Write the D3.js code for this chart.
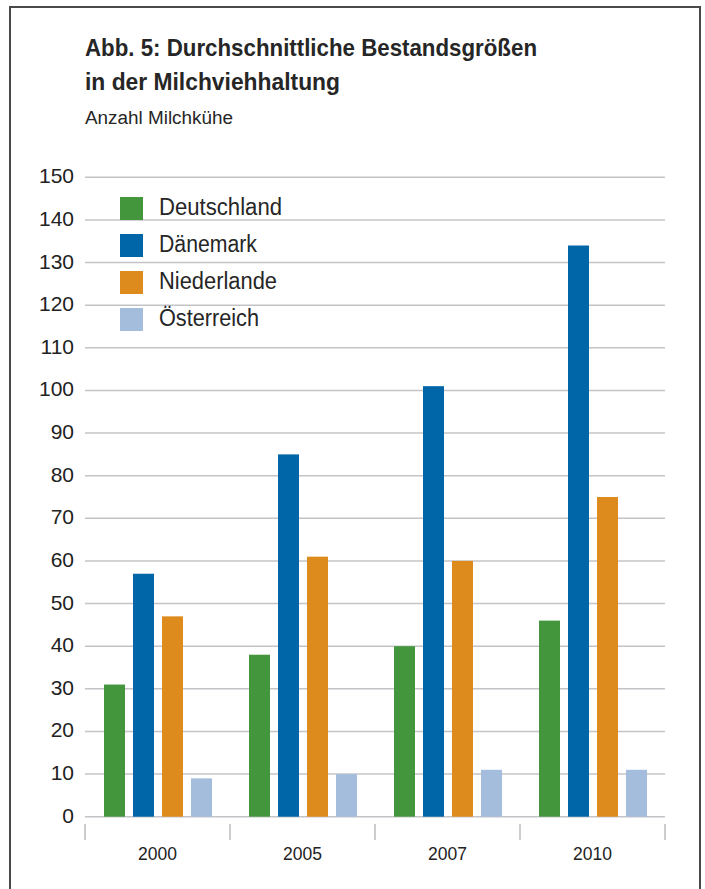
<!DOCTYPE html>
<html>
<head>
<meta charset="utf-8">
<script src="https://cdn.jsdelivr.net/npm/d3@7"></script>
<style>
  html, body { margin: 0; padding: 0; background: #fff; }
  svg { display: block; }
</style>
</head>
<body>
<script>
// ---- data ----
const years = ["2000", "2005", "2007", "2010"];
const seriesNames = ["Deutschland", "Dänemark", "Niederlande", "Österreich"];
const deutschland = [31, 38, 40, 46];
const daenemark   = [57, 85, 101, 134];
const niederlande = [47, 61, 60, 75];
const oesterreich = [9, 10, 11, 11];
const yTicks = [0, 10, 20, 30, 40, 50, 60, 70, 80, 90, 100, 110, 120, 130, 140, 150];
const titleLines = ["Abb. 5: Durchschnittliche Bestandsgrößen", "in der Milchviehhaltung"];
const subtitle = "Anzahl Milchkühe";

const seriesValues = [deutschland, daenemark, niederlande, oesterreich];
const colors = ["#43963c", "#0066a8", "#de8b1e", "#a5bddd"];

const W = 705, H = 889;
const svg = d3.select("body").append("svg").attr("width", W).attr("height", H);

// frame
svg.append("path")
  .attr("d", "M10,900 V7 H700 V900")
  .attr("fill", "none").attr("stroke", "#4a4a4a").attr("stroke-width", 2);

// titles
const titleFont = "'Liberation Sans', Arial, sans-serif";
const tl = svg.append("g").attr("fill", "#262626").attr("font-family", titleFont);
tl.append("text").attr("x", 85).attr("y", 56).attr("font-size", 24).attr("font-weight", "bold")
  .attr("textLength", 452).attr("lengthAdjust", "spacingAndGlyphs").text(titleLines[0]);
tl.append("text").attr("x", 85).attr("y", 90).attr("font-size", 24).attr("font-weight", "bold")
  .attr("textLength", 255).attr("lengthAdjust", "spacingAndGlyphs").text(titleLines[1]);
tl.append("text").attr("x", 85).attr("y", 124).attr("font-size", 18)
  .attr("textLength", 148).attr("lengthAdjust", "spacingAndGlyphs").text(subtitle);

// scales
const x0 = d3.scaleBand().domain(years).range([85, 665]).paddingInner(0).paddingOuter(0);
const x1 = d3.scaleBand().domain(seriesNames).range([19, x0.bandwidth() - 18]).paddingInner(0.276).paddingOuter(0);
const y = d3.scaleLinear().domain([0, 150]).range([816.7, 177.3]);

// grid lines
svg.append("g").selectAll("line").data(yTicks).join("line")
  .attr("x1", 85).attr("x2", 665)
  .attr("y1", d => y(d)).attr("y2", d => y(d))
  .attr("stroke", "#c4c4c8").attr("stroke-width", 1.6);

// y labels
svg.append("g").selectAll("text").data(yTicks).join("text")
  .attr("x", 74).attr("y", d => y(d) + 6)
  .attr("text-anchor", "end")
  .attr("font-family", "'Liberation Sans', Arial, sans-serif")
  .attr("font-size", 21).attr("fill", "#222")
  .text(d => d);

// bars
const groups = svg.append("g").selectAll("g").data(years).join("g")
  .attr("transform", d => `translate(${x0(d)},0)`);
groups.selectAll("rect")
  .data((yr, i) => seriesNames.map((s, j) => ({ s, j, v: seriesValues[j][i] })))
  .join("rect")
  .attr("x", d => x1(d.s))
  .attr("width", x1.bandwidth())
  .attr("y", d => y(d.v))
  .attr("height", d => y(0) - y(d.v))
  .attr("fill", d => colors[d.j]);

// x axis (ticks at band boundaries, labels centered)
const bounds = years.map(d => x0(d)).concat([x0(years[years.length - 1]) + x0.bandwidth()]);
svg.append("g").selectAll("line").data(bounds).join("line")
  .attr("x1", d => d).attr("x2", d => d)
  .attr("y1", 824).attr("y2", 840)
  .attr("stroke", "#bdbdbd").attr("stroke-width", 1.5);
svg.append("g").selectAll("text").data(years).join("text")
  .attr("x", d => x0(d) + x0.bandwidth() / 2)
  .attr("y", 860)
  .attr("text-anchor", "middle")
  .attr("font-family", "'Liberation Sans', Arial, sans-serif")
  .attr("font-size", 17.5).attr("fill", "#222")
  .text(d => d);

// legend
const legend = svg.append("g").selectAll("g").data(seriesNames).join("g")
  .attr("transform", (d, i) => `translate(120,${197 + i * 37})`);
legend.append("rect").attr("width", 23).attr("height", 23).attr("fill", (d, i) => colors[i]);
const legendWidths = [123, 98, 118, 100];
legend.append("text").attr("x", 39).attr("y", 18)
  .attr("font-family", titleFont).attr("font-size", 23).attr("fill", "#262626")
  .attr("textLength", (d, i) => legendWidths[i]).attr("lengthAdjust", "spacingAndGlyphs")
  .text(d => d);
</script>
</body>
</html>
